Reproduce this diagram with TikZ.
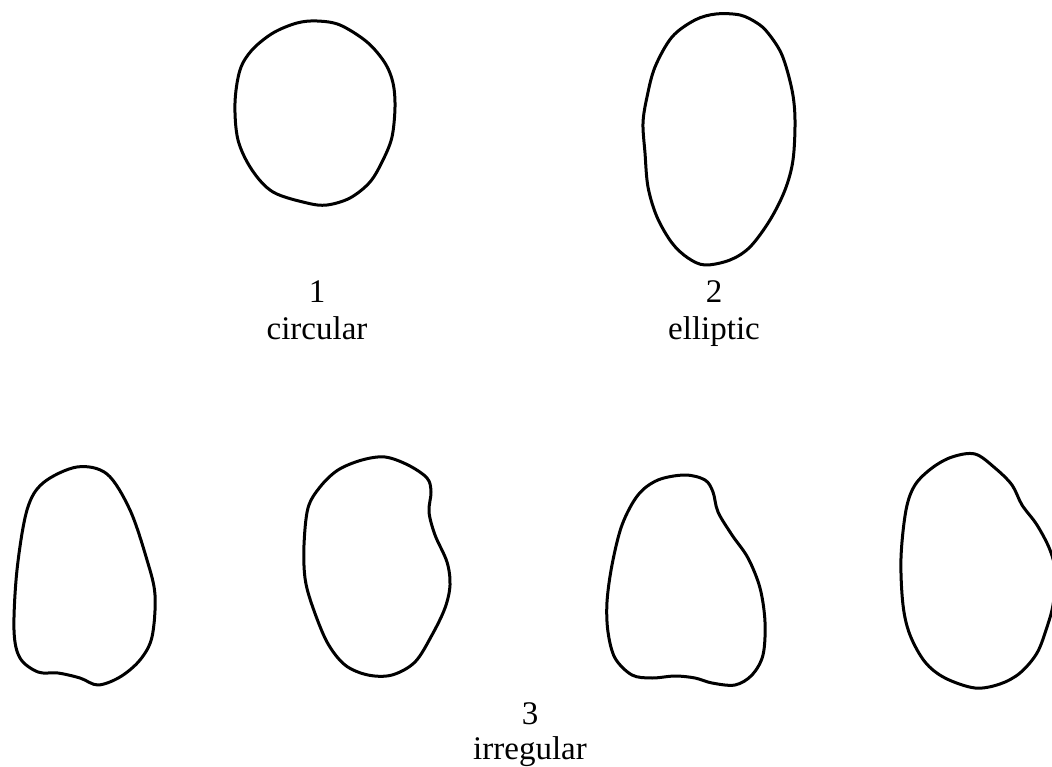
\documentclass[tikz,border=0pt]{standalone}
\usepackage{fontspec}
\setmainfont{Liberation Serif}
\usepackage{tikz}

\begin{document}
\begin{tikzpicture}[
  x=1pt, y=-1pt,
  outline/.style={draw=black, line width=3pt, line join=round},
  blob/.style={smooth cycle, tension=0.55},
  lbl/.style={anchor=base, inner sep=0pt, font=\fontsize{33}{37}\selectfont}
]
\useasboundingbox (0,0) rectangle (1052,767);

% 1 circular
\draw[outline] plot[blob] coordinates {(317,21) (340,25) (367,42) (385,63) (393,83) (395,107) (392,137) (383,160) (370,182) (350,198) (327,205) (307,203) (273,192) (252,170) (238,140) (235,103) (240,70) (252,50) (273,33) (297,23)};
\node[lbl] (num1) at (317,302) {1};
\node[lbl] (name1) at (317,339) {circular};

% 2 elliptic
\draw[outline] plot[blob] coordinates {(716,14) (740,15) (757,23) (768,33) (782,55) (792,90) (795,120) (793,160) (785,190) (770,220) (750,247) (730,260) (705,265) (688,258) (672,243) (657,217) (648,187) (645,153) (643,123) (647,97) (655,67) (672,37) (695,20)};
\node[lbl] (num2) at (714,302) {2};
\node[lbl] (name2) at (714,339) {elliptic};

% 3 irregular
\draw[outline] plot[blob] coordinates {(77,467) (107,474) (130,510) (147,560) (155,595) (152,637) (140,660) (120,677) (98,685) (80,678) (58,673) (38,672) (20,658) (14,630) (17,570) (27,510) (43,483)};
\draw[outline] plot[blob] coordinates {(385,457) (408,465) (427,478) (431,492) (429,512) (435,535) (447,562) (450,585) (445,608) (432,635) (415,662) (392,675) (368,675) (345,665) (327,642) (312,605) (305,578) (304,545) (308,508) (320,487) (338,470) (362,460)};
\draw[outline] plot[blob] coordinates {(685,475) (705,480) (713,492) (718,512) (732,535) (748,558) (760,588) (765,622) (763,655) (752,675) (735,685) (712,683) (695,678) (675,676) (652,678) (632,675) (615,658) (608,632) (607,602) (612,565) (622,525) (638,495) (658,480)};
\draw[outline] plot[blob] coordinates {(975,454) (995,468) (1012,485) (1022,505) (1037,525) (1050,550) (1056,575) (1053,605) (1047,627) (1037,653) (1020,673) (1000,684) (975,688) (945,678) (925,662) (910,635) (903,605) (901,558) (906,510) (915,485) (932,468) (952,457)};
\node[lbl] (num3) at (530,724) {3};
\node[lbl] (name3) at (530,759) {irregular};
\end{tikzpicture}
\end{document}
